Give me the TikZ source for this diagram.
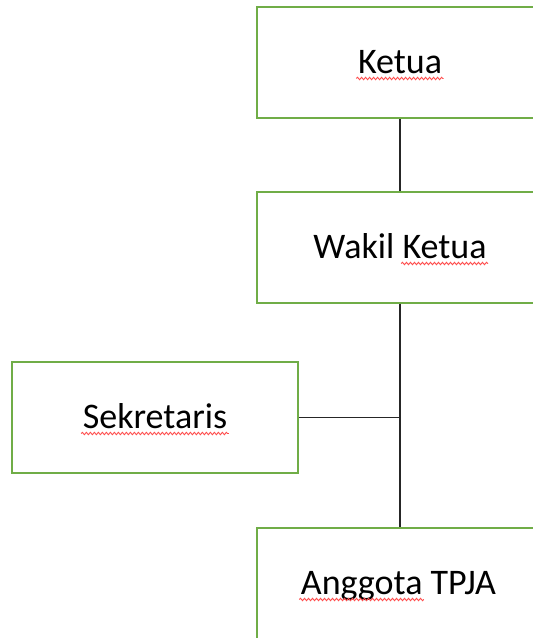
\documentclass[tikz,border=0pt]{standalone}
\usepackage{fontspec}
\setmainfont{Carlito}
\usetikzlibrary{decorations.pathmorphing}
\definecolor{boxgreen}{HTML}{70AD47}
\definecolor{squigred}{HTML}{FF4D4D}
\newlength\wdKetua
\newlength\wdAnggota
\begin{document}
\settowidth\wdKetua{\fontsize{36}{40}\selectfont Ketua}%
\settowidth\wdAnggota{\fontsize{36}{40}\selectfont Anggota}%
\begin{tikzpicture}[x=1pt,y=-1pt,
  orgbox/.style={draw=boxgreen,line width=1.5pt,fill=white,minimum width=286pt,minimum height=111pt,inner sep=0pt},
  lbl/.style={anchor=base,inner sep=0pt,font=\fontsize{36}{40}\selectfont,text=black},
  link/.style={draw=black!85,line width=1.1pt},
  squig/.style={draw=squigred,line width=0.9pt,decorate,decoration={snake,amplitude=1.2pt,segment length=4pt}}]
\clip (0,0) rectangle (533,638);
\fill[white] (0,0) rectangle (533,638);
% boxes
\node[orgbox] (ketua) at (400,62.5) {};
\node[orgbox] (wakil) at (400,247.5) {};
\node[orgbox] (sekr) at (155,417.5) {};
\node[orgbox] (angg) at (400,583.5) {};
\coordinate (junc) at (wakil.south |- sekr.east);
% connectors
\draw[link] (ketua.south) -- (wakil.north);
\draw[link] (wakil.south) -- (angg.north);
\draw[link] (sekr.east) -- (junc);
% labels
\node[lbl] (tk) at ([yshift=-10.5pt]ketua.center) {Ketua};
\node[lbl] (tw) at ([yshift=-10.5pt]wakil.center) {Wakil Ketua};
\node[lbl] (ts) at ([yshift=-10.5pt]sekr.center) {Sekretaris};
\node[lbl] (ta) at ([xshift=-1.5pt,yshift=-10.5pt]angg.center) {Anggota TPJA};
% spell-check underlines
\draw[squig] ([xshift=-1.5pt,yshift=-5.5pt]tk.base west) -- ([xshift=1.5pt,yshift=-5.5pt]tk.base east);
\draw[squig] ([yshift=-5.5pt]tw.base east) ++(-\wdKetua-1.5pt,0pt) -- ([xshift=1.5pt,yshift=-5.5pt]tw.base east);
\draw[squig] ([xshift=-1.5pt,yshift=-5.5pt]ts.base west) -- ([xshift=1.5pt,yshift=-5.5pt]ts.base east);
\draw[squig] ([xshift=-1.5pt,yshift=-5.5pt]ta.base west) -- ++(\wdAnggota+3pt,0pt);
\end{tikzpicture}
\end{document}
